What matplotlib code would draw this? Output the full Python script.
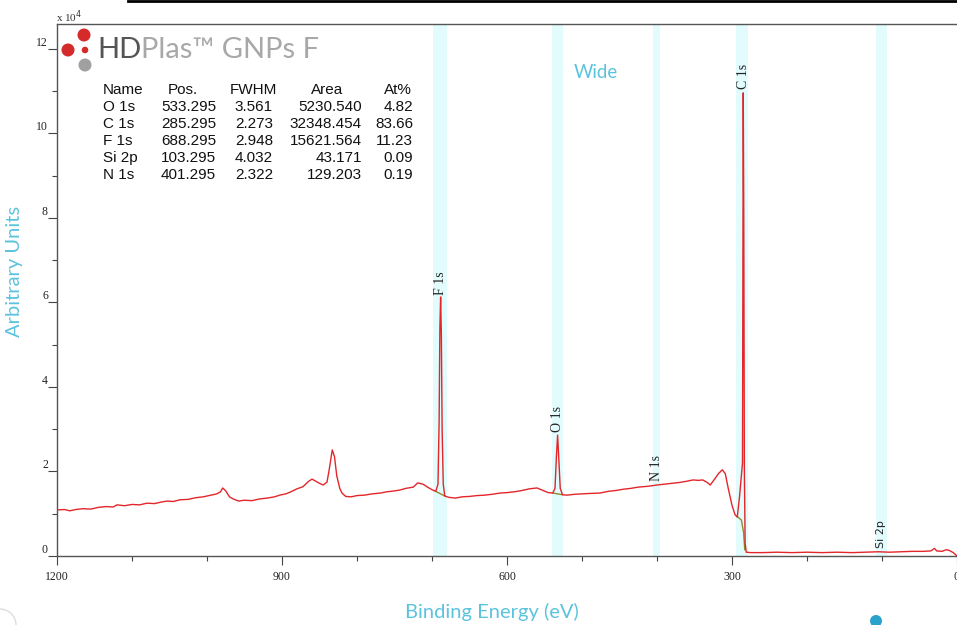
import matplotlib
matplotlib.use("Agg")
import matplotlib.pyplot as plt
from matplotlib.lines import Line2D
from matplotlib.patches import Circle
from matplotlib.ticker import MultipleLocator

# survey spectrum, binding energy (eV) vs counts / 1e4
energy = [1200, 1190, 1183, 1175, 1165, 1155, 1145, 1135, 1125, 1120, 1110, 1100,
          1090, 1080, 1070, 1060, 1053, 1045, 1036, 1025, 1015, 1005, 995, 987,
          982, 979, 975, 970, 965, 958, 950, 940, 930, 920, 910, 903, 895, 888,
          880, 872, 865, 860, 855, 850, 845, 840, 837, 833, 830, 827, 823, 820,
          815, 808, 800, 790, 780, 769, 760, 750, 743, 735, 725, 719, 712, 705,
          699, 695, 692, 690.5, 689.5, 688.5, 687.5, 686.5, 685, 683, 678, 669,
          660, 650, 640, 630, 620, 609, 600, 590, 580, 570, 560, 552, 545, 539,
          536, 534, 532.5, 531, 529, 526, 520, 510, 500, 490, 476, 465, 455, 445,
          435, 425, 412, 400, 390, 380, 370, 360, 352, 345, 339, 333, 329, 324,
          318, 313, 309, 305, 300, 296, 293, 290, 287.5, 286, 285.5, 285, 284.3,
          283.5, 282.5, 281, 275, 260, 240, 220, 200, 180, 160, 140, 120, 105,
          90, 75, 60, 45, 35, 30, 27, 20, 14, 10, 5, 0]
counts = [1.09, 1.10, 1.07, 1.10, 1.12, 1.11, 1.15, 1.17, 1.16, 1.21, 1.19, 1.22,
          1.21, 1.25, 1.24, 1.28, 1.30, 1.29, 1.33, 1.34, 1.38, 1.40, 1.44, 1.47,
          1.52, 1.61, 1.54, 1.40, 1.35, 1.30, 1.32, 1.31, 1.35, 1.37, 1.40, 1.44,
          1.47, 1.52, 1.59, 1.64, 1.76, 1.82, 1.77, 1.72, 1.68, 1.75, 2.05, 2.51,
          2.35, 1.90, 1.60, 1.49, 1.41, 1.40, 1.43, 1.44, 1.47, 1.49, 1.52, 1.54,
          1.56, 1.60, 1.63, 1.73, 1.70, 1.62, 1.56, 1.53, 1.70, 3.20, 5.40, 6.13,
          5.20, 3.00, 1.70, 1.42, 1.39, 1.37, 1.40, 1.41, 1.43, 1.44, 1.46, 1.49,
          1.50, 1.52, 1.55, 1.59, 1.61, 1.55, 1.50, 1.49, 1.60, 2.40, 2.86, 2.30,
          1.60, 1.45, 1.44, 1.46, 1.47, 1.48, 1.49, 1.53, 1.55, 1.58, 1.60, 1.63,
          1.65, 1.68, 1.70, 1.72, 1.74, 1.77, 1.80, 1.79, 1.80, 1.74, 1.68, 1.80,
          1.95, 2.04, 1.95, 1.60, 1.20, 0.98, 0.92, 1.40, 1.90, 2.20, 7.00, 10.96,
          8.00, 2.00, 0.30, 0.09, 0.08, 0.08, 0.09, 0.08, 0.09, 0.08, 0.09, 0.08,
          0.09, 0.10, 0.09, 0.10, 0.11, 0.11, 0.12, 0.18, 0.12, 0.11, 0.15, 0.13,
          0.08, 0.0]

# fitted backgrounds under the main peaks
bg_f_energy = [695, 683]
bg_f_counts = [1.53, 1.42]
bg_o_energy = [539, 526]
bg_o_counts = [1.49, 1.45]
bg_c_energy = [292, 287.5, 284.5, 283]
bg_c_counts = [0.92, 0.85, 0.55, 0.15]

# region bands (eV) and peak labels
bands = [(680, 699), (525, 540), (396, 405), (279, 295), (93, 108)]
peak_names = ["F 1s", "O 1s", "N 1s", "C 1s", "Si 2p"]
peak_energy = [688.3, 532.5, 401, 284.7, 101]
peak_label_y = [6.18, 2.93, 1.78, 11.05, 0.19]

# quantification table
tbl_names = ["O 1s", "C 1s", "F 1s", "Si 2p", "N 1s"]
tbl_pos = ["533.295", "285.295", "688.295", "103.295", "401.295"]
tbl_fwhm = ["3.561", "2.273", "2.948", "4.032", "2.322"]
tbl_area = ["5230.540", "32348.454", "15621.564", "43.171", "129.203"]
tbl_at = ["4.82", "83.66", "11.23", "0.09", "0.19"]

CYAN = "#5cc3dd"
BAND = "#e2fbfd"
RED = "#e3262a"

fig = plt.figure(figsize=(9.57, 6.25), dpi=100)
ax = fig.add_axes([57 / 957, 69 / 625, 900 / 957, 532 / 625])

for lo, hi in bands:
    ax.axvspan(lo, hi, color=BAND, lw=0, zorder=0)

ax.plot(energy, counts, color=RED, lw=1.0, zorder=3)
for be, bc in [(bg_f_energy, bg_f_counts), (bg_o_energy, bg_o_counts),
               (bg_c_energy, bg_c_counts)]:
    ax.plot(be, bc, color="#8c8a2c", lw=1.0, zorder=2)

for name, x, y in zip(peak_names, peak_energy, peak_label_y):
    if name == "Si 2p":
        fam, fs = "DejaVu Sans", 8
    else:
        fam, fs = "Liberation Serif", 10
    ax.text(x, y, name, rotation=90, ha="center", va="bottom", fontsize=fs,
            family=fam, color="#222222", zorder=4)

ax.set_xlim(1200, 0)
ax.set_ylim(0, 12.59)
ax.xaxis.set_major_locator(MultipleLocator(300))
ax.xaxis.set_minor_locator(MultipleLocator(100))
ax.yaxis.set_major_locator(MultipleLocator(2))
ax.yaxis.set_minor_locator(MultipleLocator(1))
ax.tick_params(which="major", direction="out", length=6.5, width=0.8,
               color="#444444", labelsize=8.5, labelcolor="#222222")
ax.tick_params(which="minor", direction="out", length=3.5, width=0.8, color="#444444")
ax.tick_params(axis="y", pad=0)
ax.tick_params(axis="x", pad=4)
for lab in ax.get_xticklabels() + ax.get_yticklabels():
    lab.set_family("Liberation Serif")
for lab in ax.get_yticklabels():
    lab.set_va("bottom")
for side in ["left", "bottom", "top"]:
    ax.spines[side].set_color("#555555")
    ax.spines[side].set_linewidth(1.0)
ax.spines["right"].set_visible(False)

fig.text(56 / 957, 1 - 17 / 625, r"x 10$^4$", fontsize=8, family="Liberation Serif",
         color="#333333", va="center")
fig.text(15 / 957, 1 - 271 / 625, "Arbitrary Units", rotation=90, fontsize=14.5,
         family="Lato", color=CYAN, ha="center", va="center")
fig.text(492 / 957, 1 - 612 / 625, "Binding Energy (eV)", fontsize=14.5,
         family="Lato", color=CYAN, ha="center", va="center")
fig.text(596 / 957, 1 - 72 / 625, "Wide", fontsize=13.5, family="Lato",
         color=CYAN, ha="center", va="center")

# table of peak quantification
rows_y = [90, 107, 124, 141, 158, 175]
tkw = dict(fontsize=11, family="Liberation Sans", color="#111111", va="center")
fig.text(103 / 957, 1 - rows_y[0] / 625, "Name", ha="left", **tkw)
fig.text(183 / 957, 1 - rows_y[0] / 625, "Pos.", ha="center", **tkw)
fig.text(253 / 957, 1 - rows_y[0] / 625, "FWHM", ha="center", **tkw)
fig.text(327 / 957, 1 - rows_y[0] / 625, "Area", ha="center", **tkw)
fig.text(398 / 957, 1 - rows_y[0] / 625, "At%", ha="center", **tkw)
for i, y in enumerate(rows_y[1:]):
    yy = 1 - y / 625
    fig.text(103 / 957, yy, tbl_names[i], ha="left", **tkw)
    fig.text(216 / 957, yy, tbl_pos[i], ha="right", **tkw)
    fig.text(273 / 957, yy, tbl_fwhm[i], ha="right", **tkw)
    fig.text(362 / 957, yy, tbl_area[i], ha="right", **tkw)
    fig.text(413 / 957, yy, tbl_at[i], ha="right", **tkw)

# logo and decorations on a pixel overlay
ov = fig.add_axes([0, 0, 1, 1], facecolor="none", zorder=10)
ov.set_xlim(0, 957)
ov.set_ylim(625, 0)
ov.axis("off")
for cx, cy, r, c in [(84, 35, 6.5, "#d42a2a"), (68, 50, 6.5, "#d42a2a"),
                     (85, 50, 3.3, "#d42a2a"), (85, 65, 6.5, "#a0a0a0"),
                     (876, 621, 6, "#2aa3cc")]:
    ov.add_patch(Circle((cx, cy), r, color=c, lw=0))
ov.add_patch(Circle((0, 625), 16, fill=False, ec="#dddddd", lw=1))
hd = ov.text(97, 50, "HD", fontsize=21, family="Lato", color="#555555",
             va="center", ha="left")
renderer = fig.canvas.get_renderer()
hd_w = hd.get_window_extent(renderer).width
ov.text(97 + hd_w, 50, "Plas™ GNPs F", fontsize=21, family="Lato",
        color="#a8a8a8", va="center", ha="left")
ov.add_line(Line2D([128, 957], [1, 1], color="black", lw=2))

fig.savefig("out.png", dpi=100)
